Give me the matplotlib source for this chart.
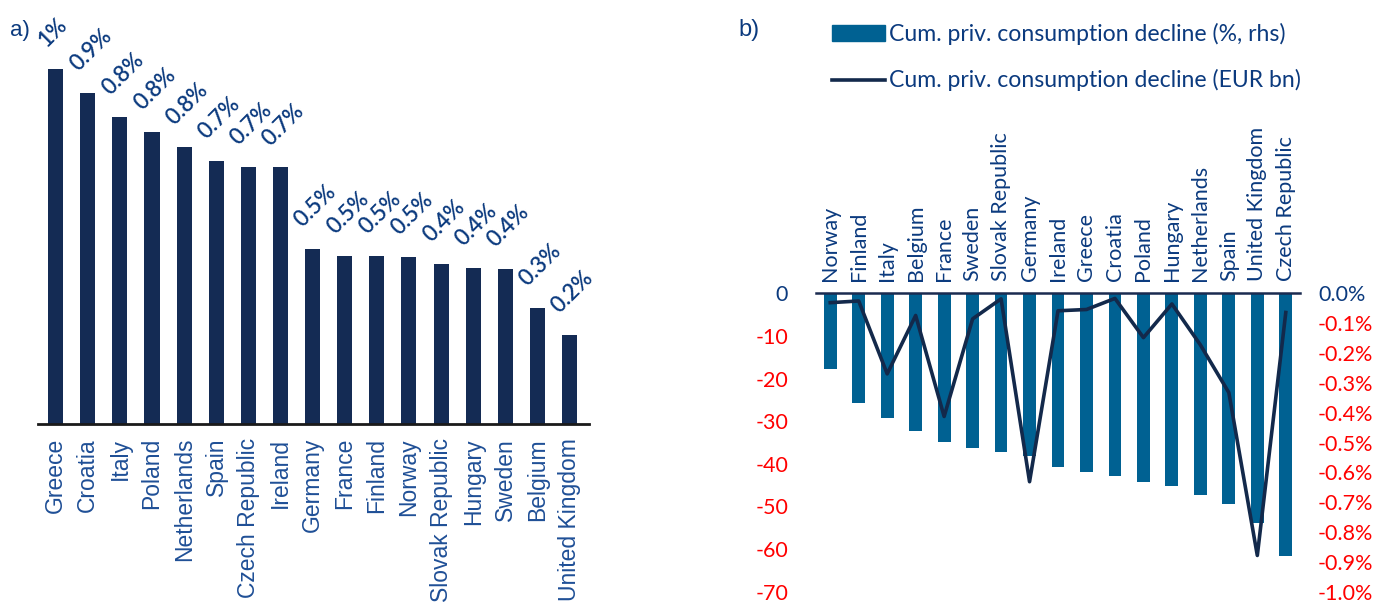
import matplotlib
matplotlib.use("Agg")
import matplotlib.pyplot as plt
from matplotlib.patches import Patch
from matplotlib.lines import Line2D

# panel a) share of ... (%)
a_countries = ["Greece", "Croatia", "Italy", "Poland", "Netherlands", "Spain",
               "Czech Republic", "Ireland", "Germany", "France", "Finland",
               "Norway", "Slovak Republic", "Hungary", "Sweden", "Belgium",
               "United Kingdom"]
a_values = [0.97, 0.905, 0.839, 0.799, 0.757, 0.719, 0.702, 0.701, 0.478,
            0.460, 0.460, 0.456, 0.437, 0.426, 0.424, 0.317, 0.243]

# panel b)
b_countries = ["Norway", "Finland", "Italy", "Belgium", "France", "Sweden",
               "Slovak Republic", "Germany", "Ireland", "Greece", "Croatia",
               "Poland", "Hungary", "Netherlands", "Spain", "United Kingdom",
               "Czech Republic"]
b_pct = [-0.255, -0.366, -0.417, -0.460, -0.499, -0.517, -0.533, -0.544,
         -0.581, -0.600, -0.611, -0.634, -0.645, -0.677, -0.707, -0.771, -0.880]
b_eur = [-2.2, -1.8, -18.9, -5.2, -28.9, -6.0, -1.3, -44.2, -4.1, -3.8, -1.2,
         -10.4, -2.5, -12.1, -23.3, -61.5, -4.5]

navy = "#142b54"
blue_txt = "#0b3a7e"
teal = "#006192"
red = "#ff0000"

fig = plt.figure(figsize=(13.77, 6.07), dpi=100)

# ---- a)
ax = fig.add_axes([0.0276, 0.3015, 0.40, 0.633])
x = list(range(len(a_countries)))
ax.bar(x, a_values, width=0.47, color=navy)
ax.set_xlim(-0.55, 16.6)
ax.set_ylim(0, 1.05)
for s in ["top", "right", "left"]:
    ax.spines[s].set_visible(False)
ax.spines["bottom"].set_color("#1a1a1a")
ax.spines["bottom"].set_linewidth(2)
ax.set_yticks([])
ax.set_xticks(x)
ax.set_xticklabels(a_countries, rotation=90, fontsize=16.5, color="#1f4f96",
                   family="Liberation Sans")
ax.tick_params(axis="x", length=0, pad=10)
for i, v in enumerate(a_values):
    lab = f"{v:.1f}".rstrip("0").rstrip(".") + "%"
    ax.annotate(lab, (i, v), xytext=(-5, 13), textcoords="offset points",
                rotation=45, rotation_mode="anchor", ha="left", va="bottom",
                fontsize=16, color=blue_txt, family="Lato", fontweight="semibold")
fig.text(0.007, 0.95, "a)", fontsize=16, color=blue_txt, family="Liberation Sans",
         va="center")

# ---- b)
axl = fig.add_axes([0.5926, 0.0252, 0.3515, 0.4916])
axr = axl.twinx()
xb = list(range(len(b_countries)))
axr.bar(xb, b_pct, width=0.45, color=teal)
axl.plot(xb, b_eur, color="#13294b", lw=2.6)
axl.set_zorder(axr.get_zorder() + 1)
axl.patch.set_visible(False)
axl.set_xlim(-0.5, 16.5)
axl.set_ylim(-70, 0)
axr.set_ylim(-1.0, 0)
for a in (axl, axr):
    for s in ["bottom", "left", "right"]:
        a.spines[s].set_visible(False)
axr.spines["top"].set_visible(False)
axl.spines["top"].set_color("#1a2b50")
axl.spines["top"].set_linewidth(1.8)

axl.xaxis.tick_top()
axl.set_xticks(xb)
axl.set_xticklabels(b_countries, rotation=90, fontsize=15.5, color=blue_txt,
                    family="Lato")
axl.tick_params(axis="x", length=0, pad=9)

lticks = [0, -10, -20, -30, -40, -50, -60, -70]
axl.set_yticks(lticks)
axl.set_yticklabels([str(t) for t in lticks], fontsize=15.5, family="Lato")
axl.tick_params(axis="y", length=0, pad=20)
for t, lab in zip(lticks, axl.get_yticklabels()):
    lab.set_color(blue_txt if t == 0 else red)

rticks = [-i / 10 for i in range(11)]
axr.set_yticks(rticks)
axr.set_yticklabels([f"{t:.1f}%" if t != 0 else "0.0%" for t in rticks],
                    fontsize=15.5, family="Lato")
axr.tick_params(axis="y", length=0, pad=13)
for t, lab in zip(rticks, axr.get_yticklabels()):
    lab.set_color(blue_txt if t == 0 else red)

handles = [Patch(color=teal), Line2D([], [], color="#13294b", lw=2.6)]
labels = ["Cum. priv. consumption decline (%, rhs)",
          "Cum. priv. consumption decline (EUR bn)"]
fig.legend(handles, labels, loc="upper left", bbox_to_anchor=(0.604, 0.962),
           frameon=False, prop={"family": "Lato", "size": 16.6},
           labelcolor=blue_txt, handlelength=2.3, handleheight=0.65,
           handletextpad=0.2, labelspacing=1.05, borderaxespad=0, borderpad=0)
fig.text(0.536, 0.95, "b)", fontsize=17, color=blue_txt, family="Liberation Sans",
         va="center")

fig.savefig("out.png", dpi=100)
